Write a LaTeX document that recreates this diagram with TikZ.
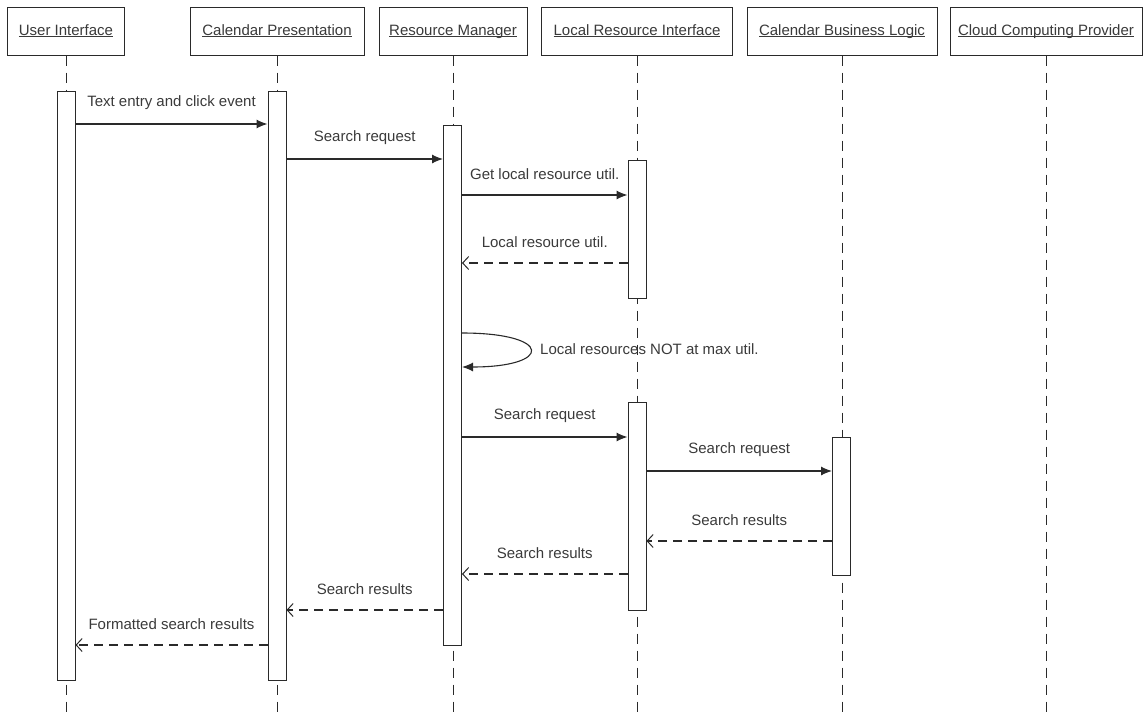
\documentclass[tikz,border=0pt]{standalone}
\usepackage{fontspec}
\setmainfont{Liberation Sans}
\usetikzlibrary{arrows.meta}
\definecolor{ink}{HTML}{2A2A2A}
\definecolor{txt}{HTML}{3A3A3A}
% underlined participant name, underline at a fixed depth
\newcommand\lifename[1]{\underline{\smash{#1}}}
\begin{document}
\begin{tikzpicture}[x=1pt,y=-1pt,
  font=\fontsize{15}{18}\selectfont, text=txt,
  headbox/.style={draw=ink, line width=1pt, fill=white, inner sep=0pt,
    minimum height=48pt, text height=11pt, text depth=3pt, anchor=center},
  actbox/.style={draw=ink, line width=1pt, fill=white, inner sep=0pt,
    minimum width=18pt, anchor=north},
  lifeline/.style={draw=ink, line width=1pt, dash pattern=on 10pt off 7pt},
  call/.style={draw=ink, line width=1.1pt, -{Latex[length=11pt,width=9pt]}},
  reply/.style={draw=ink, line width=1.1pt, dash pattern=on 9pt off 6pt,
    -{Straight Barb[length=6pt,width=13pt,line width=1pt]}},
  msg/.style={midway, yshift=21pt, inner sep=0pt}
]
\useasboundingbox (0,0) rectangle (1144,715);
\coordinate (bottom) at (0,715);

% participants
\node[headbox, minimum width=117pt] (ui)  at (66,31)   {\lifename{User Interface}};
\node[headbox, minimum width=174pt] (cp)  at (277,31)  {\lifename{Calendar Presentation}};
\node[headbox, minimum width=148pt] (rm)  at (453,31)  {\lifename{Resource Manager}};
\node[headbox, minimum width=191pt] (lri) at (637,31)  {\lifename{Local Resource Interface}};
\node[headbox, minimum width=190pt] (cbl) at (842,31)  {\lifename{Calendar Business Logic}};
\node[headbox, minimum width=192pt] (ccp) at (1046,31) {\lifename{Cloud Computing Provider}};

% lifelines
\foreach \p in {ui,cp,rm,lri,cbl,ccp}
  \draw[lifeline] (\p.south) -- (\p.south |- bottom);

% activation bars
\node[actbox, minimum height=589pt] (uiA)  at (66,91)    {};
\node[actbox, minimum height=589pt] (cpA)  at (277,91)   {};
\node[actbox, minimum height=520pt] (rmA)  at (452.5,125) {};
\node[actbox, minimum height=138pt] (lriA) at (637,160)  {};
\node[actbox, minimum height=208pt] (lriB) at (637,402)  {};
\node[actbox, minimum height=138pt] (cblA) at (841.5,437) {};

% message rows
\coordinate (r1) at (0,124);
\coordinate (r2) at (0,159);
\coordinate (r3) at (0,195);
\coordinate (r4) at (0,263);
\coordinate (s1) at (0,333);
\coordinate (s2) at (0,367);
\coordinate (r6) at (0,437);
\coordinate (r7) at (0,471);
\coordinate (r8) at (0,541);
\coordinate (r9) at (0,574);
\coordinate (r10) at (0,610);
\coordinate (r11) at (0,645);

% messages
\draw[call] (uiA.east |- r1) -- node[msg] {Text entry and click event} (cpA.west |- r1);
\draw[call] (cpA.east |- r2) -- node[msg] {Search request} (rmA.west |- r2);
\draw[call] (rmA.east |- r3) -- node[msg] {Get local resource util.} (lriA.west |- r3);
\draw[reply] (lriA.west |- r4) -- node[msg] {Local resource util.} (rmA.east |- r4);

% self call on the resource manager
\coordinate (sc1) at (553,333);
\coordinate (sc2) at (553,367);
\draw[call] (rmA.east |- s1) .. controls (sc1) and (sc2) .. (rmA.east |- s2);
\node[anchor=west, inner sep=0pt] (selfmsg) at (540,349) {Local resources NOT at max util.};

\draw[call] (rmA.east |- r6) -- node[msg] {Search request} (lriB.west |- r6);
\draw[call] (lriB.east |- r7) -- node[msg] {Search request} (cblA.west |- r7);
\draw[reply] (cblA.west |- r8) -- node[msg] {Search results} (lriB.east |- r8);
\draw[reply] (lriB.west |- r9) -- node[msg] {Search results} (rmA.east |- r9);
\draw[reply] (rmA.west |- r10) -- node[msg] {Search results} (cpA.east |- r10);
\draw[reply] (cpA.west |- r11) -- node[msg] {Formatted search results} (uiA.east |- r11);
\end{tikzpicture}
\end{document}
